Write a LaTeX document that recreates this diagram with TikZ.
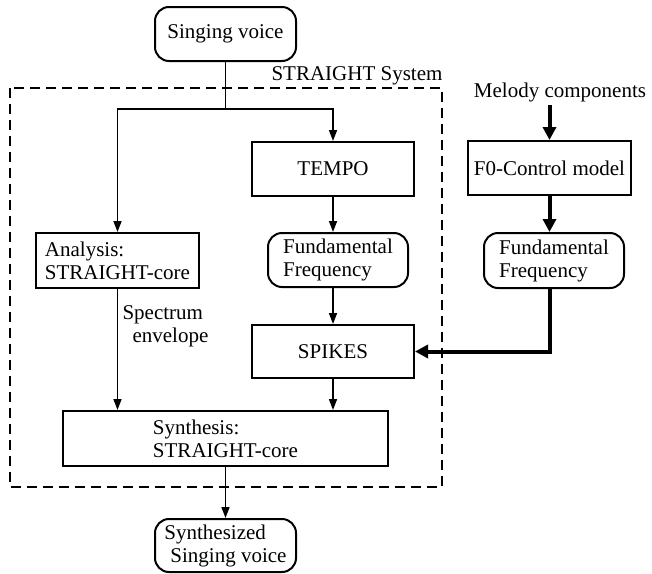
\documentclass[tikz,border=0pt]{standalone}
\usepackage{fontspec}
\setmainfont{Liberation Serif}
\usetikzlibrary{arrows.meta,positioning,calc}

\begin{document}
\begin{tikzpicture}[x=1pt,y=-1pt,
  every node/.style={font=\fontsize{21}{23}\selectfont},
  box/.style={draw,line width=2pt,inner sep=2pt},
  roundbox/.style={box,rounded corners=14pt},
  arr/.style={line width=1.6pt,-{Triangle[length=11pt,width=8pt]}},
  thickarr/.style={line width=4pt,-{Triangle[length=13pt,width=13pt]}}]
\useasboundingbox (0,0) rectangle (652,573);

% the STRAIGHT system frame
\draw[line width=2pt,dash pattern=on 10pt off 6pt] (10,88) rectangle (442,487);
\node[anchor=west] (sys) at (268,76) {STRAIGHT System};

\node[roundbox,minimum width=141pt,minimum height=54pt] (voice) at (225.5,34) {Singing voice};
\node[box,minimum width=163pt,minimum height=55pt,align=left] (analysis) at (117.5,260.5) {Analysis:\\STRAIGHT-core};
\node[box,minimum width=162pt,minimum height=54pt] (tempo) at (333,169) {TEMPO};
\node[roundbox,minimum width=140pt,minimum height=54pt,align=left] (fund) at (338,260) {Fundamental\\Frequency};
\node[box,minimum width=162pt,minimum height=53pt] (spikes) at (333,351.5) {SPIKES};
\node[box,minimum width=325pt,minimum height=55pt,align=left] (synth) at (225.5,438.5) {Synthesis:\\STRAIGHT-core};
\node[roundbox,minimum width=141pt,minimum height=53pt,align=left] (out) at (225.5,545.5) {Synthesized\\\hspace{6pt}Singing voice};
\node[align=left,anchor=west] (spec) at (119,326) {Spectrum\\\hspace{10pt}envelope};

% melody side
\node (mel) at (560,92) {Melody components};
\node[box,minimum width=163pt,minimum height=54pt] (f0) at (549.5,168) {F0-Control model};
\node[roundbox,minimum width=140pt,minimum height=55pt,align=left] (fund2) at (554,260.5) {Fundamental\\Frequency};

% connectors
\coordinate (fork) at (225.5,109);
\draw[line width=1.6pt] (voice.south) -- (fork);
\draw[arr] (fork) -| (analysis.north);
\draw[arr] (fork) -| (tempo.north);
\draw[arr] (tempo.south) -- (tempo.south |- fund.north);
\draw[arr] (fund.south -| spikes.north) -- (spikes.north);
\draw[arr] (analysis.south) -- (analysis.south |- synth.north);
\draw[arr] (spikes.south) -- (spikes.south |- synth.north);
\draw[arr] (synth.south) -- (out.north);

\draw[thickarr] (mel.south -| f0.north) -- (f0.north);
\draw[thickarr] (f0.south) -- (f0.south |- fund2.north);
\draw[thickarr] (fund2.south -| f0.south) |- (spikes.east);
\end{tikzpicture}
\end{document}
